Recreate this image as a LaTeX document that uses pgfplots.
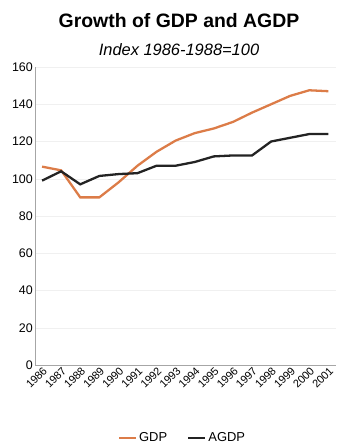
\documentclass[border=0pt]{standalone}
\usepackage{fontspec}
\setmainfont{Liberation Sans}
\usepackage{pgfplots}
\pgfplotsset{compat=1.18}
\definecolor{gdp}{RGB}{220,124,72}
\definecolor{agdp}{RGB}{35,35,35}
\begin{document}
\begin{tikzpicture}
\useasboundingbox (0,0) rectangle (337bp,445bp);
\node[font=\fontsize{19.5}{22}\selectfont\bfseries] at (179bp,424bp) {Growth of GDP and AGDP};
\node[font=\fontsize{16.5}{18}\selectfont\itshape] at (179bp,395bp) {Index 1986-1988=100};
\begin{axis}[
 at={(35bp,80bp)}, anchor=south west, scale only axis,
 width=301bp, height=298bp,
 xmin=1985.63, xmax=2001.4, ymin=0, ymax=160,
 axis x line=bottom, axis y line=left,
 axis line style={-, gray!70, line width=0.6pt},
 xtick={1986,...,2001}, ytick={0,20,...,160},
 major tick length=0pt,
 /pgf/number format/assume math mode=true,
 x tick label style={/pgf/number format/1000 sep={}},
 xticklabel style={rotate=45, anchor=east, font=\fontsize{11}{12}\selectfont, inner sep=0.5pt, yshift=-5bp},
 yticklabel style={font=\fontsize{12.5}{14}\selectfont, inner sep=2pt},
 ymajorgrids, grid style={gray!12, line width=0.4pt},
 legend style={at={(0.49,-0.245)}, anchor=center, draw=none, fill=none,
   font=\fontsize{13}{15}\selectfont, legend columns=2,
   /tikz/every even column/.append style={column sep=18pt}},
]
\addplot[color=gdp, line width=2.3pt] coordinates {
(1986,106.5) (1987,104.5) (1988,90) (1989,90) (1990,98) (1991,107)
(1992,114.5) (1993,120.5) (1994,124.5) (1995,127) (1996,130.5)
(1997,135.5) (1998,140) (1999,144.5) (2000,147.5) (2001,147)};
\addlegendentry{GDP}
\addplot[color=agdp, line width=2.3pt] coordinates {
(1986,99) (1987,104) (1988,97) (1989,101.5) (1990,102.5) (1991,103)
(1992,107) (1993,107) (1994,109) (1995,112) (1996,112.5)
(1997,112.5) (1998,120) (1999,122) (2000,124) (2001,124)};
\addlegendentry{AGDP}
\end{axis}
\end{tikzpicture}
\end{document}
